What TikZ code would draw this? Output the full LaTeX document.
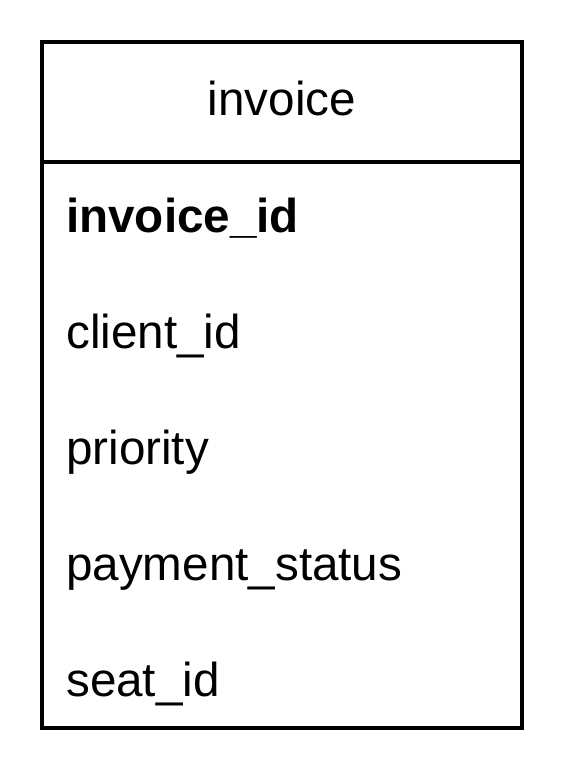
\documentclass[tikz,border=0pt]{standalone}
\usepackage{fontspec}
\setmainfont{Liberation Sans}
\usepackage{tikz}

\begin{document}
\begin{tikzpicture}[x=1pt,y=-1pt,
		field/.style={anchor=base west, inner sep=0pt, font=\fontsize{47.6}{57}\selectfont},
		title/.style={anchor=base, inner sep=0pt, font=\fontsize{47.6}{57}\selectfont},
		frame/.style={line width=4pt, draw=black}]
		\useasboundingbox (0,0) rectangle (564,784);

		% table frame
		\coordinate (nw) at (42,42);
		\coordinate (se) at (522,728);
		\coordinate (dl) at (42,161.5);
		\coordinate (dr) at (522,161.5);
		\draw[frame] (nw) rectangle (se);
		\draw[frame] (dl) -- (dr);

		% header
		\node[title] (invoice) at (282,115) {invoice};

		% fields
		\node[field] (invoiceid) at (66,232) {\textbf{invoice\_id}};
		\node[field] (clientid) at (66,348) {client\_id};
		\node[field] (priority) at (66,464) {priority};
		\node[field] (paymentstatus) at (66,580) {payment\_status};
		\node[field] (seatid) at (66,696) {seat\_id};

		\end{tikzpicture}
\end{document}
